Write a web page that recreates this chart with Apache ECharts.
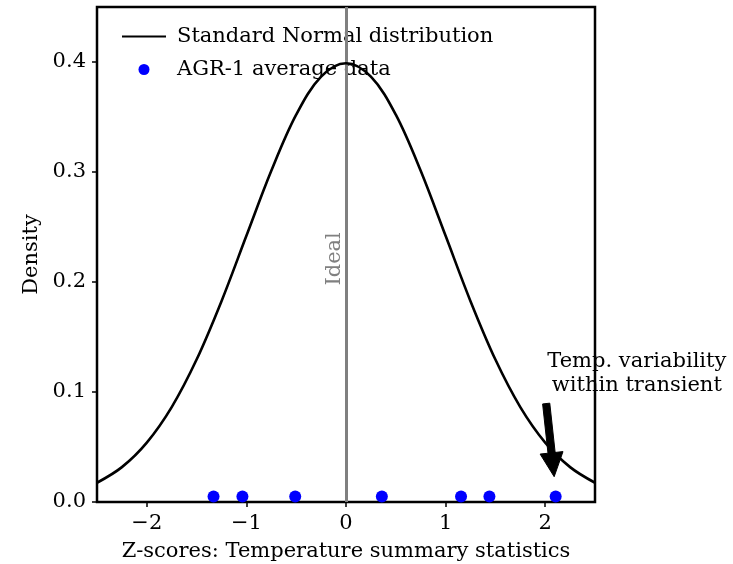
<!DOCTYPE html>
<html>
<head>
<meta charset="utf-8">
<script src="https://cdn.jsdelivr.net/npm/echarts@6/dist/echarts.min.js"></script>
<style>html,body{margin:0;padding:0;background:#fff}#c{width:733px;height:564px}</style>
</head>
<body>
<div id="c"></div>
<script>
// Standard normal curve
const curveX = [-2.5,-2.25,-2,-1.75,-1.5,-1.25,-1,-0.75,-0.5,-0.25,0,0.25,0.5,0.75,1,1.25,1.5,1.75,2,2.25,2.5];
const curveY = [0.0175,0.0317,0.054,0.0863,0.1295,0.1826,0.242,0.3011,0.3521,0.3867,0.3989,0.3867,0.3521,0.3011,0.242,0.1826,0.1295,0.0863,0.054,0.0317,0.0175];
// AGR-1 average data points
const agrX = [-1.33,-1.04,-0.51,0.36,1.155,1.44,2.105];
const agrY = [0.005,0.005,0.005,0.005,0.005,0.005,0.005];
// Axis ticks
const xTicks = [-2,-1,0,1,2];
const yTicks = [0,0.1,0.2,0.3,0.4];
// Annotations
const idealX = 0;
const idealLabelPos = [0, 0.221];
const arrowTail = [2.01, 0.0895];
const arrowTip = [2.09, 0.023];
const noteLines = ['Temp. variability', 'within transient'];
const notePos = [2.92, 0.117];

const FONT = 'DejaVu Serif';
const FS = 21;
const fmtX = v => v < 0 ? '\u2212' + Math.abs(v) : String(v);

const chart = echarts.init(document.getElementById('c'), null, {renderer: 'canvas'});
chart.setOption({
  animation: false,
  textStyle: {fontFamily: FONT},
  grid: {left: 97, right: 138, top: 7, bottom: 62, show: true, borderColor: '#000', borderWidth: 2.5, backgroundColor: 'transparent', containLabel: false, outerBoundsMode: 'none'},
  legend: {
    orient: 'vertical', left: 116, top: 21, itemWidth: 44, itemHeight: 11, itemGap: 12,
    textStyle: {fontFamily: FONT, fontSize: FS, color: '#000', padding: [0,0,0,6]},
    data: [
      {name: 'Standard Normal distribution', itemStyle: {opacity: 0}},
      {name: 'AGR-1 average data', icon: 'circle'}
    ]
  },
  xAxis: {
    type: 'value', min: -2.5, max: 2.5,
    name: 'Z-scores: Temperature summary statistics', nameLocation: 'middle', nameGap: 39,
    nameTextStyle: {fontFamily: FONT, fontSize: FS, color: '#000'},
    axisLine: {show: false, onZero: false},
    splitLine: {show: false},
    axisTick: {show: true, length: 5, lineStyle: {color: '#000', width: 1.5}, customValues: xTicks},
    axisLabel: {fontFamily: FONT, fontSize: FS, color: '#000', margin: 11, customValues: xTicks, formatter: fmtX}
  },
  yAxis: {
    type: 'value', min: 0, max: 0.45,
    name: 'Density', nameLocation: 'middle', nameGap: 54, nameRotate: 90,
    nameTextStyle: {fontFamily: FONT, fontSize: FS, color: '#000'},
    axisLine: {show: false, onZero: false},
    splitLine: {show: false},
    axisTick: {show: true, length: 5, lineStyle: {color: '#000', width: 1.5}, customValues: yTicks},
    axisLabel: {fontFamily: FONT, fontSize: FS, color: '#000', margin: 11, customValues: yTicks, formatter: v => v.toFixed(1)}
  },
  series: [
    {
      name: 'Standard Normal distribution', type: 'line', smooth: 0.35, symbol: 'none',
      data: curveX.map((x, i) => [x, curveY[i]]),
      lineStyle: {color: '#000', width: 2.6}, itemStyle: {color: '#000'}, z: 5,
      markLine: {
        silent: true, symbol: 'none', label: {show: false},
        lineStyle: {color: '#808080', width: 3, type: 'solid'},
        data: [{xAxis: idealX}]
      }
    },
    {
      name: 'AGR-1 average data', type: 'scatter', symbol: 'circle', symbolSize: 12,
      data: agrX.map((x, i) => [x, agrY[i]]),
      itemStyle: {color: '#0000ff', opacity: 1}, z: 6
    },
    {
      type: 'custom', clip: false, silent: true, z: 7,
      data: [0],
      renderItem: function (params, api) {
        const t = api.coord(arrowTail), p = api.coord(arrowTip);
        const dx = p[0] - t[0], dy = p[1] - t[1];
        const L = Math.sqrt(dx*dx + dy*dy);
        const ux = dx / L, uy = dy / L, nx = -uy, ny = ux;
        const hl = 24, hw = 11.5, sw = 3.6;
        const b = [p[0] - ux*hl, p[1] - uy*hl];
        const pts = [
          [t[0] + nx*sw, t[1] + ny*sw],
          [b[0] + nx*sw, b[1] + ny*sw],
          [b[0] + nx*hw, b[1] + ny*hw],
          p,
          [b[0] - nx*hw, b[1] - ny*hw],
          [b[0] - nx*sw, b[1] - ny*sw],
          [t[0] - nx*sw, t[1] - ny*sw]
        ];
        const ip = api.coord(idealLabelPos);
        const np = api.coord(notePos);
        return {
          type: 'group',
          children: [
            {type: 'polygon', shape: {points: pts}, style: {fill: '#000', stroke: '#000', lineWidth: 1}},
            {type: 'text', x: ip[0] - 11, y: ip[1], rotation: Math.PI/2,
             style: {text: 'Ideal', fill: '#808080', font: FS + 'px "' + FONT + '"', align: 'center', verticalAlign: 'middle'}},
            {type: 'text', x: np[0], y: np[1],
             style: {text: noteLines.join('\n'), fill: '#000', font: FS + 'px "' + FONT + '"', align: 'center', verticalAlign: 'middle', lineHeight: 24}}
          ]
        };
      }
    }
  ]
});
</script>
</body>
</html>
